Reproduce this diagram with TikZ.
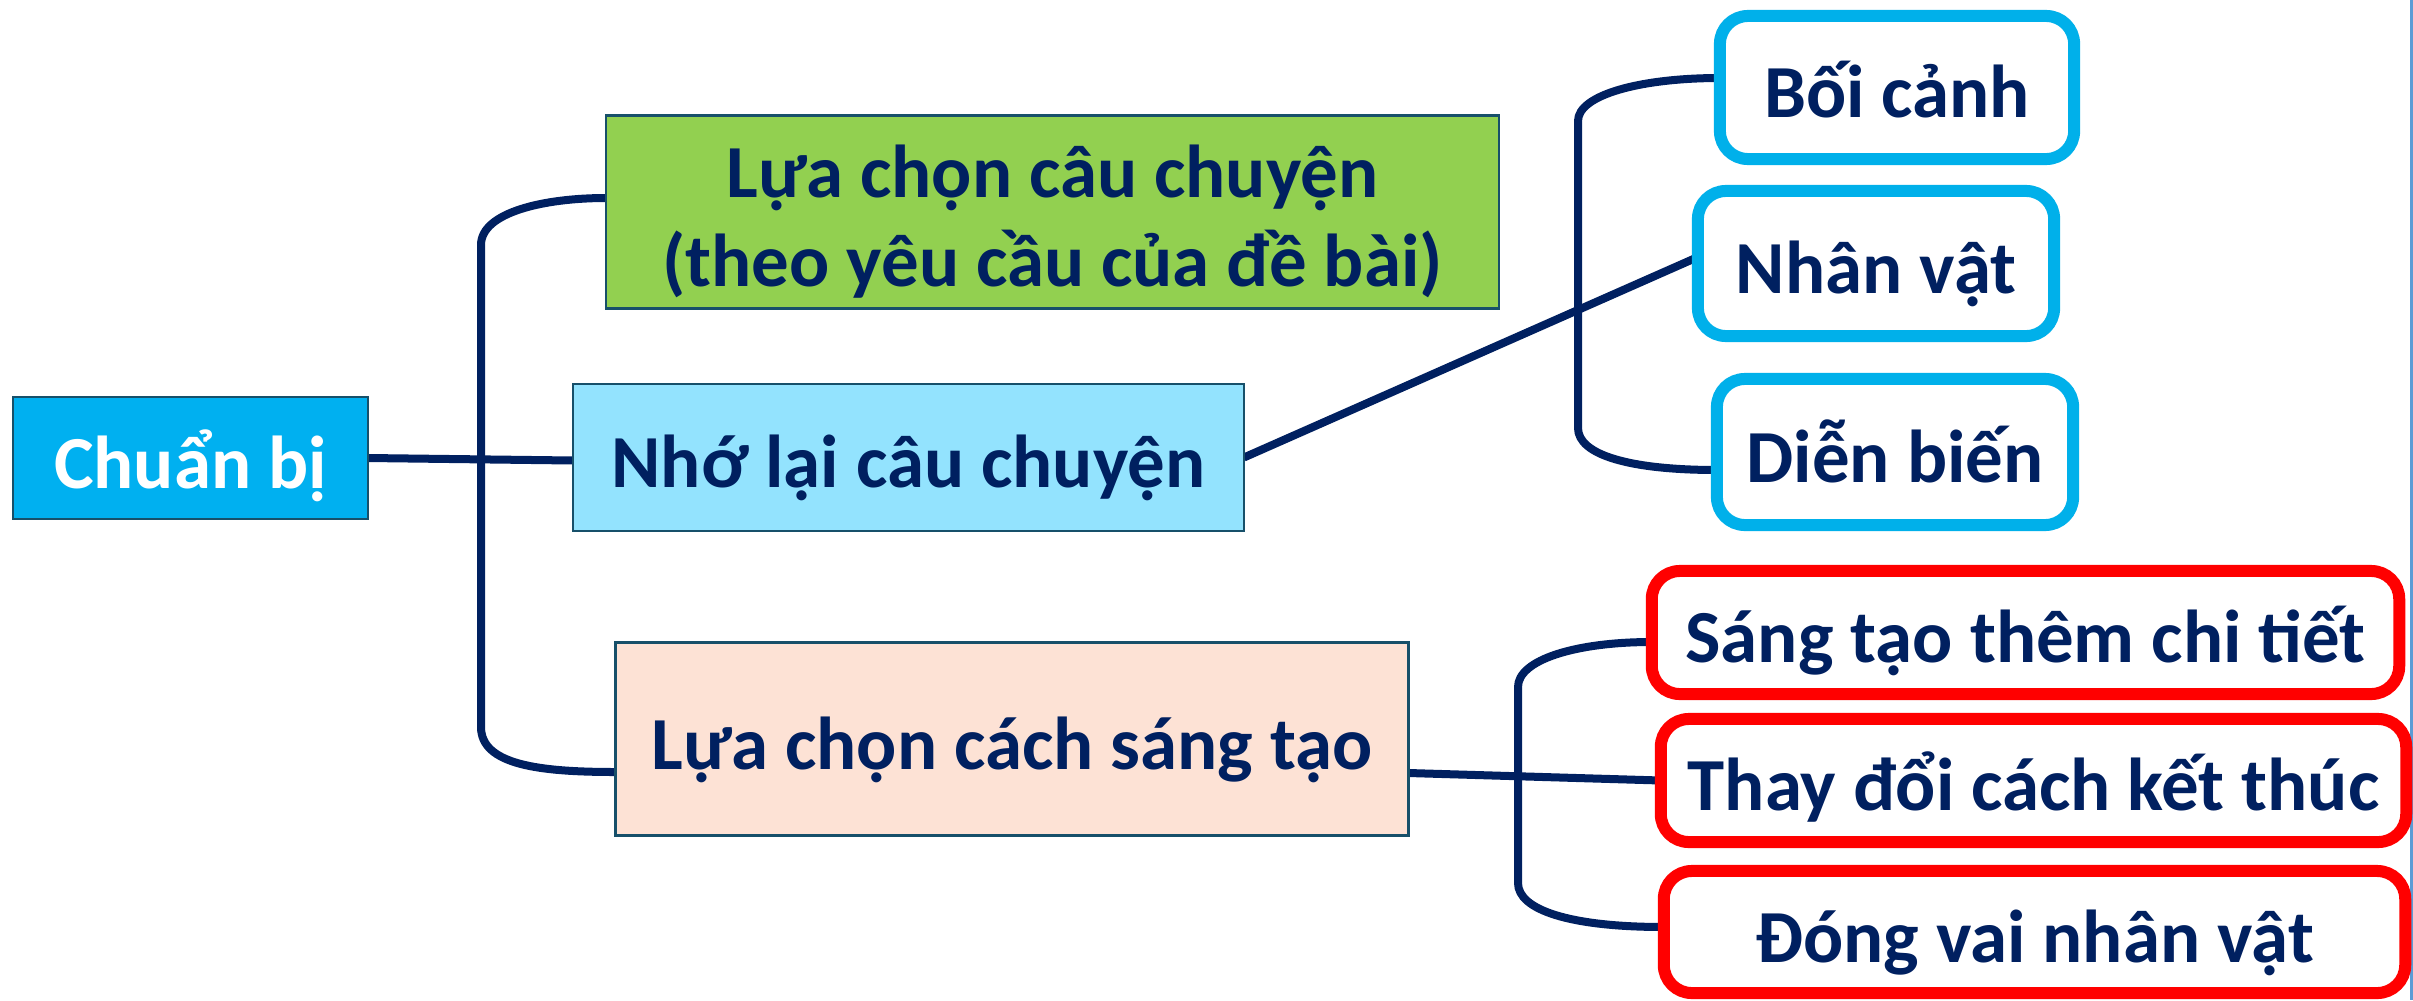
\documentclass[tikz,border=0pt]{standalone}
\usepackage{fontspec}
\setmainfont{Carlito}
\usetikzlibrary{calc,backgrounds}
\definecolor{navy}{HTML}{002060}
\definecolor{rootc}{HTML}{00B0F0}
\definecolor{cyanc}{HTML}{00B0EA}
\definecolor{greenc}{HTML}{92D050}
\definecolor{skyc}{HTML}{93E3FE}
\definecolor{peachc}{HTML}{FDE2D5}
\definecolor{boxedge}{HTML}{17506A}
\definecolor{redc}{HTML}{FF0000}
\definecolor{edgeline}{HTML}{5B9BD5}
\tikzset{
  base/.style={inner sep=0pt, outer sep=0pt, align=center,
    font=\fontsize{21.3}{25.3}\selectfont\bfseries, text=navy,
    text height=0.6cm, text depth=0cm},
  rectbox/.style={base, draw=boxedge, line width=0.025cm},
  cyanbox/.style={base, draw=cyanc, fill=white, line width=0.12cm, rounded corners=0.28cm},
  redbox/.style={base, draw=redc, fill=white, line width=0.12cm, rounded corners=0.28cm},
  link/.style={draw=navy, line width=0.08cm},
}
\begin{document}
\begin{tikzpicture}[x=0.01cm, y=-0.01cm]
\useasboundingbox (0,0) rectangle (2413,1000);
% left column
\node[rectbox, fill=rootc, text=white, minimum width=3.545cm, minimum height=1.215cm] (root) at (190.5,458) {Chuẩn bị};
\node[rectbox, fill=greenc, minimum width=8.925cm, minimum height=1.925cm, text height=1.49cm, text depth=0cm] (lua) at (1052.5,212) {Lựa chọn câu chuyện\\(theo yêu cầu của đề bài)};
\node[rectbox, fill=skyc, minimum width=6.705cm, minimum height=1.465cm] (nho) at (908.5,457.5) {Nhớ lại câu chuyện};
\node[rectbox, fill=peachc, minimum width=7.925cm, minimum height=1.925cm] (cach) at (1012,739) {Lựa chọn cách sáng tạo};
% right column
\node[cyanbox, minimum width=3.54cm, minimum height=1.43cm] (boi) at (1897,87.5) {Bối cảnh};
\node[cyanbox, minimum width=3.56cm, minimum height=1.45cm] (nhan) at (1876,263.5) {Nhân vật};
\node[cyanbox, minimum width=3.56cm, minimum height=1.46cm] (dien) at (1895,452) {Diễn biến};
\node[redbox, minimum width=7.47cm, minimum height=1.23cm] (sang) at (2025.5,632.5) {Sáng tạo thêm chi tiết};
\node[redbox, minimum width=7.45cm, minimum height=1.23cm] (thay) at (2033.5,780.5) {Thay đổi cách kết thúc};
\node[redbox, minimum width=7.41cm, minimum height=1.22cm] (dong) at (2034.5,932) {Đóng vai nhân vật};
\begin{scope}[on background layer]
\fill[white] (0,0) rectangle (2413,1000);
\draw[edgeline, line width=0.03cm] (2411.5,0) -- (2411.5,1000);
% connectors
\draw[link] (root.east) -- ($(nho.west)+(0,3)$);
\draw[link] ($(lua.west)+(0,-14)$) .. controls (545,198) and (481,212) .. (481,245)
  -- (481,727) .. controls (481,765) and (540,772) .. ($(cach.west)+(0,33)$);
\draw[link] (nho.east) -- ($(nhan.west)+(0,-6.5)$);
\draw[link] ($(boi.west)+(0,-9.5)$) .. controls (1640,78) and (1578,95) .. (1578,121)
  -- (1578,428) .. controls (1578,455) and (1630,470) .. ($(dien.west)+(0,18)$);
\draw[link] ($(cach.east)+(0,34)$) -- (thay.west);
\draw[link] ($(sang.west)+(0,9.5)$) .. controls (1575,642) and (1518,660) .. (1518,687)
  -- (1518,883) .. controls (1518,910) and (1570,927) .. ($(dong.west)+(0,-5)$);
\end{scope}
\end{tikzpicture}
\end{document}
